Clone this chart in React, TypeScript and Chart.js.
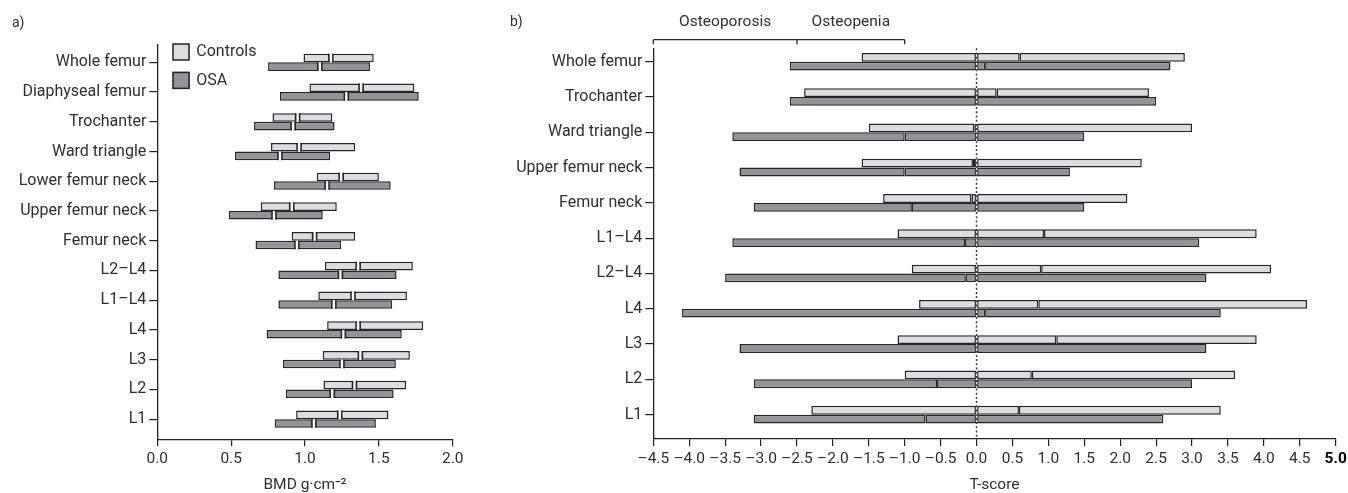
import React, { useEffect, useRef } from "react";
import { Chart, registerables } from "chart.js";
Chart.register(...registerables);

const FAMILY = "Roboto, 'Noto Sans', 'DejaVu Sans', sans-serif";
const TEXT = "#2f2f2f";
const AXIS = "#222";
const EDGE = "#262626";
const LIGHT = "#dcdddf";
const DARK = "#939497";

// ---------- Panel a: BMD ----------
const bmdCategories = ["Whole femur", "Diaphyseal femur", "Trochanter", "Ward triangle", "Lower femur neck", "Upper femur neck", "Femur neck", "L2–L4", "L1–L4", "L4", "L3", "L2", "L1"];
const bmdControlsMin = [0.99, 1.03, 0.78, 0.77, 1.08, 0.7, 0.91, 1.135, 1.09, 1.15, 1.12, 1.125, 0.94];
const bmdControlsMedian = [1.175, 1.38, 0.95, 0.96, 1.245, 0.91, 1.065, 1.36, 1.325, 1.36, 1.375, 1.335, 1.235];
const bmdControlsMax = [1.465, 1.74, 1.185, 1.34, 1.5, 1.215, 1.34, 1.73, 1.69, 1.8, 1.71, 1.685, 1.565];
const bmdOsaMin = [0.75, 0.83, 0.655, 0.525, 0.79, 0.485, 0.665, 0.82, 0.82, 0.74, 0.85, 0.87, 0.795];
const bmdOsaMedian = [1.1, 1.28, 0.92, 0.83, 1.15, 0.79, 0.945, 1.24, 1.195, 1.26, 1.25, 1.185, 1.06];
const bmdOsaMax = [1.44, 1.77, 1.2, 1.17, 1.58, 1.12, 1.245, 1.62, 1.59, 1.655, 1.615, 1.6, 1.48];
const bmdAxisMin = 0;
const bmdAxisMax = 2;
const bmdStep = 0.5;
const bmdAxisTitle = "BMD g·cm⁻²";
const groupLabels = ["Controls", "OSA"];

// ---------- Panel b: T-score ----------
const tCategories = ["Whole femur", "Trochanter", "Ward triangle", "Upper femur neck", "Femur neck", "L1–L4", "L2–L4", "L4", "L3", "L2", "L1"];
const tControlsMin = [-1.6, -2.4, -1.5, -1.6, -1.3, -1.1, -0.9, -0.8, -1.1, -1.0, -2.3];
const tControlsMedian = [0.6, 0.28, -0.03, -0.05, -0.07, 0.94, 0.9, 0.86, 1.11, 0.77, 0.59];
const tControlsMax = [2.9, 2.4, 3.0, 2.3, 2.1, 3.9, 4.1, 4.6, 3.9, 3.6, 3.4];
const tOsaMin = [-2.6, -2.6, -3.4, -3.3, -3.1, -3.4, -3.5, -4.1, -3.3, -3.1, -3.1];
const tOsaMedian = [0.12, 0, -1.0, -1.0, -0.9, -0.16, -0.15, 0.12, 0, -0.55, -0.71];
const tOsaMax = [2.7, 2.5, 1.5, 1.3, 1.5, 3.1, 3.2, 3.4, 3.2, 3.0, 2.6];
const tAxisMin = -4.5;
const tAxisMax = 5;
const tStep = 0.5;
const tAxisTitle = "T-score";
const zoneLabels = ["Osteoporosis", "Osteopenia"];
const zoneEdges = [-4.5, -2.5, -1.0];
const panelLabels = ["a)", "b)"];

const BW = 1.5;

function pairs(a: number[], b: number[]) {
  return a.map((v, i) => [v, b[i]]);
}

// split [min, max] at median and at zero
function splitAtZero(min: number[], med: number[], max: number[]) {
  const segs: any[][] = [[], [], []];
  for (let i = 0; i < min.length; i++) {
    const cuts = [min[i], Math.min(med[i], 0), Math.max(med[i], 0), max[i]];
    for (let k = 0; k < 3; k++) {
      segs[k].push(cuts[k + 1] > cuts[k] ? [cuts[k], cuts[k + 1]] : null);
    }
  }
  return segs;
}

function barDs(label: string, data: any[], stack: string, color: string, catPct: number) {
  return {
    label,
    data,
    stack,
    backgroundColor: color,
    borderColor: EDGE,
    borderWidth: BW,
    borderSkipped: false,
    barPercentage: 1,
    categoryPercentage: catPct,
  };
}

function yScale(startValue: number, valueRange: number, width: number) {
  return {
    type: "category",
    offset: true,
    grid: { display: true, drawOnChartArea: false, drawTicks: true, tickLength: 8, color: AXIS, lineWidth: 1.2, offset: false },
    border: { display: true, color: AXIS, width: 1.3 },
    ticks: { font: { family: FAMILY, size: 16 }, color: TEXT, padding: 3, autoSkip: false },
    afterFit: (s: any) => {
      s.width = width;
      s.paddingTop = 0;
      s.paddingBottom = 0;
    },
    afterBuildTicks: (s: any) => {
      s._startValue = startValue;
      s._valueRange = valueRange;
    },
  };
}

function xScale(min: number, max: number, step: number, title: string, height: number, fmt: (v: number) => string, boldMax: boolean) {
  return {
    type: "linear",
    min,
    max,
    stacked: false,
    ticks: {
      stepSize: step,
      autoSkip: false,
      maxRotation: 0,
      padding: 4,
      callback: (v: any) => fmt(Number(v)),
      font: (ctx: any) => ({ family: FAMILY, size: 15.5, weight: boldMax && ctx.tick && ctx.tick.value === max ? "bold" : "normal" }),
      color: (ctx: any) => (boldMax && ctx.tick && ctx.tick.value === max ? "#000" : TEXT),
    },
    grid: { display: true, drawOnChartArea: false, drawTicks: true, tickLength: 7, color: AXIS, lineWidth: 1.2 },
    border: { display: true, color: AXIS, width: 1.3 },
    title: { display: true, text: title, color: TEXT, font: { family: FAMILY, size: 15.5, lineHeight: 1 }, padding: 0 },
    afterFit: (s: any) => {
      s.height = height;
      s.paddingLeft = 0;
      s.paddingRight = 0;
    },
  };
}

const panelAPlugin = {
  id: "panelA",
  afterDatasetsDraw(chart: any) {
    const { ctx, chartArea, scales } = chart;
    ctx.save();
    // gaps between the two halves of each box (at the median)
    const meds: [number, number[]][] = [
      [0, bmdControlsMedian],
      [2, bmdOsaMedian],
    ];
    meds.forEach(([di, med]) => {
      chart.getDatasetMeta(di).data.forEach((el: any, i: number) => {
        const m = scales.x.getPixelForValue(med[i]);
        const top = el.y - el.height / 2;
        ctx.fillStyle = "#fff";
        ctx.fillRect(m - 1.3, top, 2.6, el.height);
        ctx.fillStyle = EDGE;
        ctx.fillRect(m - 1.3 - BW, top, BW, el.height);
        ctx.fillRect(m + 1.3, top, BW, el.height);
      });
    });
    // legend
    const colors = [LIGHT, DARK];
    const lx = chartArea.left + 15;
    groupLabels.forEach((lab, k) => {
      const by = chartArea.top - 1.7 + k * 28.4;
      ctx.fillStyle = colors[k];
      ctx.fillRect(lx, by, 17.5, 17.4);
      ctx.strokeStyle = EDGE;
      ctx.lineWidth = BW;
      ctx.strokeRect(lx + BW / 2, by + BW / 2, 17.5 - BW, 17.4 - BW);
      ctx.fillStyle = TEXT;
      ctx.font = `16px ${FAMILY}`;
      ctx.textAlign = "left";
      ctx.textBaseline = "middle";
      ctx.fillText(lab, lx + 24, by + 9);
    });
    // panel label
    ctx.font = `14px ${FAMILY}`;
    ctx.fillStyle = TEXT;
    ctx.textAlign = "left";
    ctx.textBaseline = "middle";
    ctx.fillText(panelLabels[0], 12, 23);
    ctx.restore();
  },
};

const panelBPlugin = {
  id: "panelB",
  afterDatasetsDraw(chart: any) {
    const { ctx, chartArea, scales } = chart;
    const x = scales.x;
    ctx.save();
    // dotted zero line
    const x0 = x.getPixelForValue(0);
    ctx.strokeStyle = "#3a3a3a";
    ctx.lineWidth = 1.5;
    ctx.setLineDash([2, 2.2]);
    ctx.beginPath();
    ctx.moveTo(x0, chartArea.top);
    ctx.lineTo(x0, chartArea.bottom);
    ctx.stroke();
    ctx.setLineDash([]);
    // bracket for zones
    const by = chartArea.top - 8.6;
    ctx.strokeStyle = EDGE;
    ctx.lineWidth = 1.3;
    ctx.beginPath();
    ctx.moveTo(x.getPixelForValue(zoneEdges[0]), by);
    ctx.lineTo(x.getPixelForValue(zoneEdges[zoneEdges.length - 1]), by);
    zoneEdges.forEach((e) => {
      const px = x.getPixelForValue(e);
      ctx.moveTo(px, by);
      ctx.lineTo(px, by + 4.5);
    });
    ctx.stroke();
    ctx.fillStyle = TEXT;
    ctx.font = `15.5px ${FAMILY}`;
    ctx.textAlign = "center";
    ctx.textBaseline = "middle";
    zoneLabels.forEach((lab, k) => {
      const cx = (x.getPixelForValue(zoneEdges[k]) + x.getPixelForValue(zoneEdges[k + 1])) / 2;
      ctx.fillText(lab, cx, 22);
    });
    // panel label
    ctx.font = `14px ${FAMILY}`;
    ctx.textAlign = "left";
    ctx.fillText(panelLabels[1], 30, 22);
    ctx.restore();
  },
};

export default function App() {
  const aRef = useRef<HTMLCanvasElement>(null);
  const bRef = useRef<HTMLCanvasElement>(null);

  useEffect(() => {
    document.body.style.margin = "0";
    const fmtA = (v: number) => v.toFixed(1);
    const fmtB = (v: number) => (v < 0 ? "–" + Math.abs(v).toFixed(1) : Math.abs(v).toFixed(1));

    const chartA = new Chart(aRef.current as HTMLCanvasElement, {
      type: "bar",
      data: {
        labels: bmdCategories,
        datasets: [
          barDs(groupLabels[0], pairs(bmdControlsMin, bmdControlsMedian), "controls", LIGHT, 0.58),
          barDs(groupLabels[0], pairs(bmdControlsMedian, bmdControlsMax), "controls", LIGHT, 0.58),
          barDs(groupLabels[1], pairs(bmdOsaMin, bmdOsaMedian), "osa", DARK, 0.58),
          barDs(groupLabels[1], pairs(bmdOsaMedian, bmdOsaMax), "osa", DARK, 0.58),
        ] as any,
      },
      options: {
        indexAxis: "y",
        animation: false,
        responsive: true,
        maintainAspectRatio: false,
        layout: { padding: { top: 45, right: 27.3, left: 0, bottom: 0 } },
        plugins: { legend: { display: false }, tooltip: { enabled: false } },
        scales: {
          y: yScale(-0.582, 13.26, 157.3),
          x: xScale(bmdAxisMin, bmdAxisMax, bmdStep, bmdAxisTitle, 53.7, fmtA, false),
        } as any,
      },
      plugins: [panelAPlugin],
    } as any);

    const segC = splitAtZero(tControlsMin, tControlsMedian, tControlsMax);
    const segO = splitAtZero(tOsaMin, tOsaMedian, tOsaMax);
    const chartB = new Chart(bRef.current as HTMLCanvasElement, {
      type: "bar",
      data: {
        labels: tCategories,
        datasets: [
          ...segC.map((d) => barDs(groupLabels[0], d, "controls", LIGHT, 0.5)),
          ...segO.map((d) => barDs(groupLabels[1], d, "osa", DARK, 0.5)),
        ] as any,
      },
      options: {
        indexAxis: "y",
        animation: false,
        responsive: true,
        maintainAspectRatio: false,
        layout: { padding: { top: 48.3, right: 12.3, left: 0, bottom: 0 } },
        plugins: { legend: { display: false }, tooltip: { enabled: false } },
        scales: {
          y: yScale(-0.38, 11.07, 173.3),
          x: xScale(tAxisMin, tAxisMax, tStep, tAxisTitle, 54, fmtB, true),
        } as any,
      },
      plugins: [panelBPlugin],
    } as any);

    return () => {
      chartA.destroy();
      chartB.destroy();
    };
  }, []);

  return (
    <div style={{ position: "absolute", left: 0, top: 0, width: 1348, height: 493, background: "#fff" }}>
      <div style={{ position: "absolute", left: 0, top: 0, width: 480, height: 493 }}>
        <canvas ref={aRef} />
      </div>
      <div style={{ position: "absolute", left: 480, top: 0, width: 868, height: 493 }}>
        <canvas ref={bRef} />
      </div>
    </div>
  );
}
